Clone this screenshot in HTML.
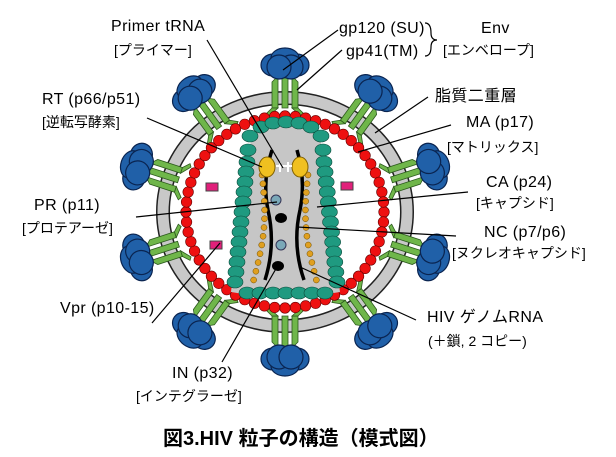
<!DOCTYPE html>
<html><head><meta charset="utf-8"><style>
html,body{margin:0;padding:0;background:#fff;}
svg{display:block;}
text{font-family:"Liberation Sans","Noto Sans CJK JP",sans-serif;fill:#000;}
.l{font-size:16px;letter-spacing:0.4px;}
.s{font-size:14px;}
</style></head><body>
<svg id="s" width="616" height="457" viewBox="0 0 616 457" xmlns="http://www.w3.org/2000/svg">
<defs>
<g id="spike">
  <path d="M-13,-10 L-13,16 L-7,22 L-7,-10 Z" fill="#6fb64a" stroke="#2d5a1e" stroke-width="0.8"/>
  <path d="M-3,-10 L-3,20 L3,20 L3,-10 Z" fill="#6fb64a" stroke="#2d5a1e" stroke-width="0.8"/>
  <path d="M13,-10 L13,16 L7,22 L7,-10 Z" fill="#6fb64a" stroke="#2d5a1e" stroke-width="0.8"/>
  <path d="M-13,-10 L-19,-16 L-16,-18 L-7,-10 Z" fill="#6fb64a" stroke="#2d5a1e" stroke-width="0.8"/>
  <path d="M13,-10 L19,-16 L16,-18 L7,-10 Z" fill="#6fb64a" stroke="#2d5a1e" stroke-width="0.8"/>
  <g fill="#2060a8" stroke="#0a2450" stroke-width="1.2">
    <ellipse cx="-12" cy="33" rx="12" ry="11"/>
    <ellipse cx="12" cy="33" rx="12" ry="11"/>
    <ellipse cx="0" cy="40" rx="14" ry="10"/>
    <ellipse cx="-6" cy="31" rx="12" ry="12"/>
    <ellipse cx="6" cy="31" rx="12" ry="12"/>
  </g>
</g>
</defs>
<ellipse cx="285" cy="212" rx="122" ry="114" fill="none" stroke="#222" stroke-width="14"/>
<ellipse cx="285" cy="212" rx="122" ry="114" fill="none" stroke="#c8c8c8" stroke-width="11"/>
<g id="spikes"></g>
<g id="beads"></g>
<path d="M252,132 Q285,116 320,132 L324,175 Q332,230 340,292 Q285,302 231,292 Q238,230 246,175 Z" fill="#c6c6c6"/>
<g id="core"></g>
<path d="M272,150 Q262,180 268,210 Q276,245 265,280" fill="none" stroke="#000" stroke-width="3.5"/>
<path d="M297,150 Q306,180 300,210 Q292,245 304,280" fill="none" stroke="#000" stroke-width="3.5"/>
<g id="orange"></g>
<ellipse cx="267" cy="167" rx="8" ry="10" fill="#f0c020" stroke="#806000"/>
<ellipse cx="300" cy="167" rx="8" ry="10" fill="#f0c020" stroke="#806000"/>
<path d="M276,166 L292,166 M280,162 L280,172 M288,162 L288,172" stroke="#fff" stroke-width="2"/>
<circle cx="276" cy="200" r="5" fill="#7aa8b8" stroke="#335"/>
<circle cx="281" cy="245" r="5" fill="#7aa8b8" stroke="#335"/>
<ellipse cx="281" cy="218" rx="6" ry="5" fill="#000"/>
<ellipse cx="278" cy="266" rx="6" ry="5" fill="#000"/>
<rect x="206" y="183" width="12" height="8" fill="#e0207a" stroke="#444"/>
<rect x="341" y="182" width="12" height="8" fill="#e0207a" stroke="#444"/>
<rect x="210" y="241" width="12" height="8" fill="#e0207a" stroke="#444"/>
<g stroke="#000" stroke-width="1.2" fill="none">
<line x1="207" y1="40" x2="283" y2="168"/>
<line x1="147" y1="118" x2="262" y2="167"/>
<line x1="136" y1="217" x2="277" y2="202"/>
<line x1="152" y1="323" x2="220" y2="243"/>
<line x1="222" y1="362" x2="277" y2="267"/>
<line x1="300" y1="267" x2="416" y2="320"/>
<line x1="297" y1="227" x2="456" y2="236"/>
<line x1="317" y1="207" x2="468" y2="192"/>
<line x1="358" y1="152" x2="451" y2="125"/>
<line x1="375" y1="133" x2="428" y2="97"/>
<line x1="297" y1="90" x2="342" y2="50"/>
<line x1="283" y1="70" x2="338" y2="30"/>
<path d="M425,23 Q431,23 431,33 Q431,40 437,40 Q431,40 431,47 Q431,56 425,56"/>
</g>
<text class="l" x="111" y="31">Primer tRNA</text>
<text class="s" x="114" y="55">[プライマー]</text>
<text class="l" x="339" y="33">gp120 (SU)</text>
<text class="l" x="346" y="56">gp41(TM)</text>
<text class="l" x="481" y="33">Env</text>
<text class="s" x="443" y="55">[エンベロープ]</text>
<text class="l" x="42" y="104">RT (p66/p51)</text>
<text class="s" x="42" y="127">[逆転写酵素]</text>
<text class="l" x="435" y="101">脂質二重層</text>
<text class="l" x="466" y="127">MA (p17)</text>
<text class="s" x="447" y="152">[マトリックス]</text>
<text class="l" x="486" y="187">CA (p24)</text>
<text class="s" x="476" y="208">[キャプシド]</text>
<text class="l" x="34" y="210">PR (p11)</text>
<text class="s" x="22" y="233">[プロテアーゼ]</text>
<text class="l" x="484" y="237">NC (p7/p6)</text>
<text class="s" x="452" y="258">[ヌクレオキャプシド]</text>
<text class="l" x="60" y="313">Vpr (p10-15)</text>
<text class="l" x="427" y="322">HIV ゲノムRNA</text>
<text class="s" x="428" y="346">(＋鎖, 2 コピー)</text>
<text class="l" x="172" y="378">IN (p32)</text>
<text class="s" x="136" y="401">[インテグラーゼ]</text>
<text x="163" y="445" style="font-size:20px;font-weight:bold;">図3.HIV 粒子の構造（模式図）</text>
</svg>
<script>
var NS="http://www.w3.org/2000/svg";
function el(p,t,a){var e=document.createElementNS(NS,t);for(var k in a)e.setAttribute(k,a[k]);p.appendChild(e);return e;}
var cx=285,cy=212;
var sp=document.getElementById('spikes');
for(var i=0;i<10;i++){
  var a=(-90+36*i)*Math.PI/180;
  var x=cx+122*Math.cos(a),y=cy+114*Math.sin(a);
  var deg=-90+36*i+90;
  el(sp,'use',{href:'#spike',transform:'translate('+x+','+y+') rotate('+(deg+180)+')'});
}
var b=document.getElementById('beads');
var n=60;
for(var i=0;i<n;i++){var a=2*Math.PI*i/n;
  el(b,'circle',{cx:cx+99*Math.cos(a),cy:cy+96*Math.sin(a),r:5.3,fill:'#ee1010',stroke:'#600',"stroke-width":0.6});}
var c=document.getElementById('core');
var pts=[[248,150],[250,136],[261,127],[273,123],[286,122],[299,123],[311,127],[321,136],[323,150]];
function ov(x,y){el(c,'ellipse',{cx:x,cy:y,rx:8,ry:6,fill:'#1f9a80',stroke:'#0c4a3a',"stroke-width":0.6});}
pts.forEach(function(p){ov(p[0],p[1]);});
for(var k=0;k<13;k++){var t=k/12;ov(247-12*t,162+120*t);ov(324+13*t,162+120*t);}
for(var k=0;k<7;k++){ov(247+k*13,293);}
var o=document.getElementById('orange');
for(var k=0;k<13;k++){var t=k/12;var yy=175+t*105;
  var xl=262+6*Math.sin(t*3.2)-t*8, xr=308-6*Math.sin(t*3.2)+t*8;
  el(o,'circle',{cx:xl,cy:yy,r:3,fill:'#e0a020',stroke:'#6a4a00',"stroke-width":0.5});
  el(o,'circle',{cx:xr,cy:yy,r:3,fill:'#e0a020',stroke:'#6a4a00',"stroke-width":0.5});}
</script>
</body></html>
